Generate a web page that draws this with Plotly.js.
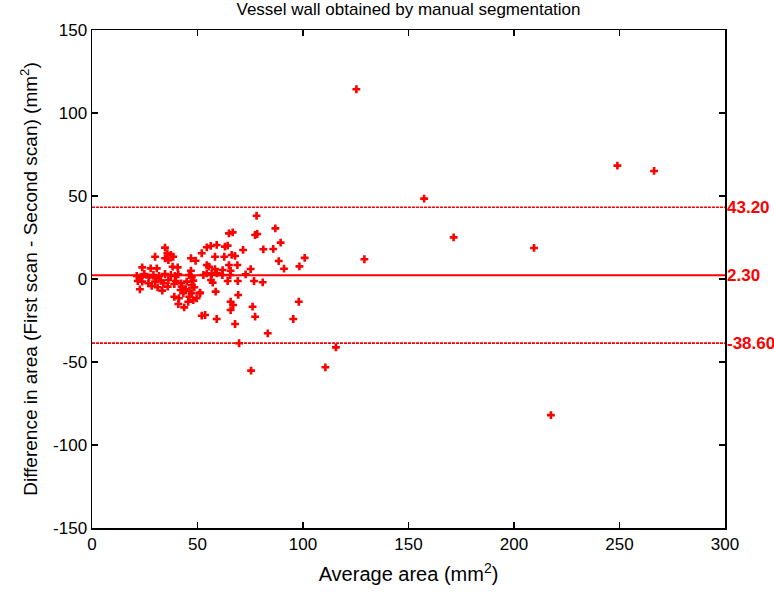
<!DOCTYPE html>
<html>
<head>
<meta charset="utf-8">
<script src="https://cdn.plot.ly/plotly-3.0.1.min.js"></script>
<style>html,body{margin:0;padding:0;background:#fff;}#chart{width:774px;height:601px;}</style>
</head>
<body>
<div id="chart"></div>
<script>
// Average area (mm^2)
const avgArea = [
  78.0, 64.9, 66.7, 78.3, 77.3, 86.9, 34.6, 29.9, 35.7, 37.4, 38.5, 34.6, 36.2, 46.9, 49.1,
  56.3, 59.1, 54.4, 52.0, 58.3, 63.0, 64.3, 62.7, 66.2, 67.8, 71.6, 81.2, 85.9, 88.5, 91.0,
  89.4, 100.8, 98.3,
  23.8, 27.8, 30.7, 38.2, 40.6, 46.9, 54.4, 55.5, 58.3, 61.9, 64.9, 65.7, 68.9, 75.2,
  21.2, 22.7, 24.8, 27.0, 29.1, 30.2, 31.8, 34.6, 37.4, 39.3, 40.9, 46.0, 47.3, 52.8, 54.4, 56.7, 59.2, 61.8, 65.5, 72.8,
  21.7, 23.8, 26.7, 29.9, 32.7, 33.8, 36.2, 39.7, 42.2, 44.9, 48.0, 56.4, 57.2, 64.3, 69.1, 76.8, 80.9,
  22.7, 28.3, 31.1, 33.3, 35.9, 39.0, 42.5, 44.4, 47.3, 48.5, 51.2, 58.6, 46.1, 42.0,
  39.0, 41.2, 43.3, 46.1, 47.3, 49.6, 51.2, 40.9, 43.7, 45.6, 48.0, 69.3, 65.7, 66.9, 76.1, 65.7,
  52.0, 53.6, 59.1, 67.8, 77.3, 83.3, 69.7, 75.4,
  98.0, 95.4, 115.6, 110.6,
  125.3, 129.1, 157.4, 171.4, 209.5, 217.5, 249.0, 266.4
];
// Difference in area (First scan - Second scan) (mm^2)
const diffArea = [
  38.1, 27.5, 28.1, 27.1, 26.5, 30.5, 18.9, 13.4, 15.5, 14.5, 13.4, 12.5, 11.4, 12.5, 11.0,
  19.9, 20.5, 19.1, 15.5, 13.4, 19.5, 20.1, 13.4, 14.5, 13.9, 17.5, 17.9, 18.1, 10.8, 6.2,
  21.9, 12.7, 7.6,
  7.0, 6.4, 6.4, 7.4, 7.0, 5.0, 8.4, 7.4, 6.0, 5.4, 8.4, 5.0, 8.4, 6.0,
  1.8, 1.0, 3.0, 1.0, 2.4, 0.4, 1.8, 3.0, 2.4, 1.8, 2.8, 2.4, 1.0, 2.4, 3.4, 3.0, 3.4, 2.4, 2.4, 2.8,
  -1.2, -1.6, -2.6, -1.6, -1.0, -2.6, -0.6, -1.2, -2.6, -1.6, -1.0, -0.6, -2.2, -1.2, -1.2, -1.2, -2.0,
  -6.2, -4.2, -5.0, -7.0, -4.6, -3.0, -4.6, -6.2, -3.6, -5.0, -8.2, -7.6, -7.0, -6.6,
  -10.7, -11.6, -8.6, -10.7, -8.6, -11.6, -8.6, -15.1, -17.1, -13.7, -12.7, -9.6, -13.7, -15.7, -16.7, -18.7,
  -22.1, -21.7, -24.1, -27.1, -22.7, -32.7, -38.7, -55.2,
  -13.7, -24.1, -41.2, -53.2,
  114.3, 11.9, 48.4, 25.1, 18.7, -82.0, 68.3, 65.1
];
const meanDiff = 2.30;
const upperLoA = 43.20;
const lowerLoA = -38.60;
const limitLabels = ["43.20", "2.30", "-38.60"];
const xRange = [0, 300];
const yRange = [-150, 150];
const xTicks = [0, 50, 100, 150, 200, 250, 300];
const yTicks = [-150, -100, -50, 0, 50, 100, 150];

const red = '#ff0000';
const traces = [
  {
    x: avgArea, y: diffArea, mode: 'markers', type: 'scatter',
    marker: {symbol: 'cross', size: 6.5, color: red, line: {width: 0}},
    hoverinfo: 'x+y', showlegend: false
  },
  {x: xRange, y: [meanDiff, meanDiff], mode: 'lines', line: {color: red, width: 2}, showlegend: false, hoverinfo: 'skip'},
  {x: xRange, y: [upperLoA, upperLoA], mode: 'lines', line: {color: red, width: 1.6, dash: '3px,1px'}, showlegend: false, hoverinfo: 'skip'},
  {x: xRange, y: [lowerLoA, lowerLoA], mode: 'lines', line: {color: red, width: 1.6, dash: '3px,1px'}, showlegend: false, hoverinfo: 'skip'}
];

const fontFam = '"Liberation Sans", Arial, sans-serif';
const lineVals = [upperLoA, meanDiff, lowerLoA];
const annotations = lineVals.map((v, i) => ({
  x: 1, xref: 'paper', y: v, yref: 'y', xanchor: 'left', yanchor: 'middle', xshift: 0,
  text: '<b>' + limitLabels[i] + '</b>', showarrow: false,
  font: {family: fontFam, size: 17, color: red}
}));

const layout = {
  width: 774, height: 601,
  margin: {l: 92, r: 49, t: 30, b: 73},
  paper_bgcolor: '#fff', plot_bgcolor: '#fff',
  font: {family: fontFam, color: '#000'},
  title: {text: 'Vessel wall obtained by manual segmentation', font: {size: 17, family: fontFam, color: '#000'}, xref: 'paper', x: 0.5, xanchor: 'center', y: 0.995, yanchor: 'top'},
  xaxis: {
    range: xRange, tickvals: xTicks, ticktext: xTicks.map(String),
    showgrid: false, zeroline: false, showline: true, linecolor: '#000', linewidth: 1.5,
    mirror: 'ticks', ticks: 'inside', ticklen: 6, tickwidth: 1.5, tickcolor: '#000',
    tickfont: {size: 17, family: fontFam},
    title: {text: 'Average area (mm<sup>2</sup>)', font: {size: 20, family: fontFam}, standoff: 14}
  },
  yaxis: {
    range: yRange, tickvals: yTicks, ticktext: yTicks.map(String),
    showgrid: false, zeroline: false, showline: true, linecolor: '#000', linewidth: 1.5,
    mirror: 'ticks', ticks: 'inside', ticklen: 6, tickwidth: 1.5, tickcolor: '#000',
    tickfont: {size: 17, family: fontFam},
    title: {text: 'Difference in area (First scan - Second scan) (mm<sup>2</sup>)', font: {size: 19, family: fontFam}, standoff: 10}
  },
  annotations: annotations
};

Plotly.newPlot('chart', traces, layout, {displayModeBar: false, staticPlot: true});
</script>
</body>
</html>
